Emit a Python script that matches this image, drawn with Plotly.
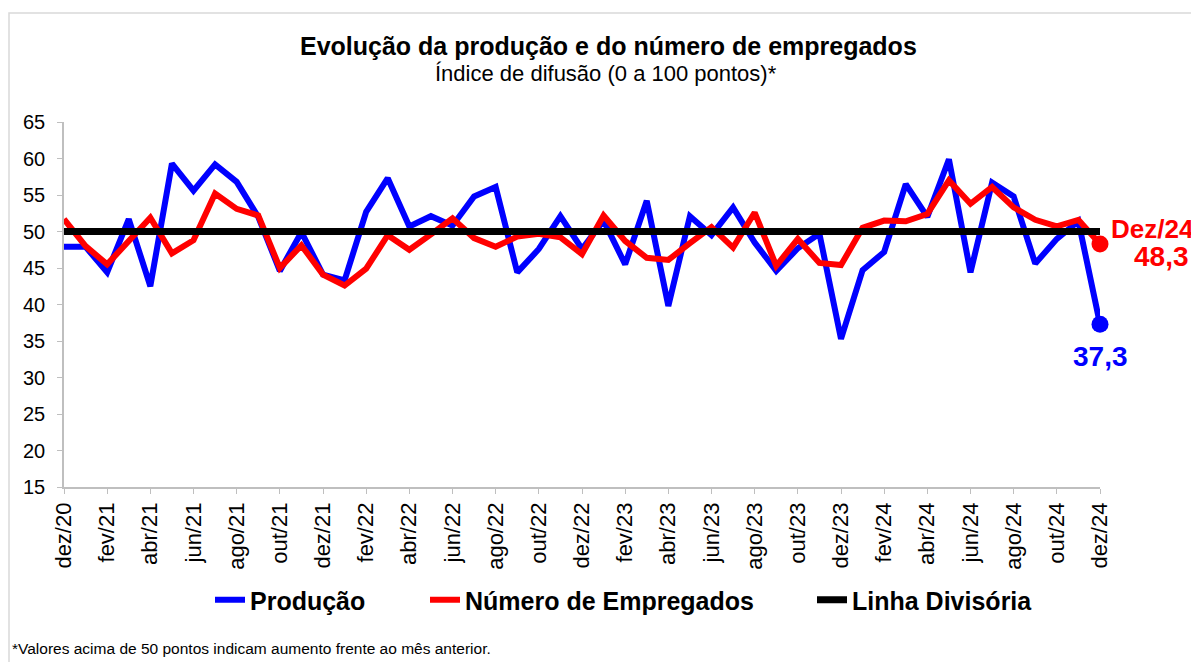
import plotly.graph_objects as go

months = ["dez/20","jan/21","fev/21","mar/21","abr/21","mai/21","jun/21","jul/21","ago/21","set/21","out/21","nov/21",
          "dez/21","jan/22","fev/22","mar/22","abr/22","mai/22","jun/22","jul/22","ago/22","set/22","out/22","nov/22",
          "dez/22","jan/23","fev/23","mar/23","abr/23","mai/23","jun/23","jul/23","ago/23","set/23","out/23","nov/23",
          "dez/23","jan/24","fev/24","mar/24","abr/24","mai/24","jun/24","jul/24","ago/24","set/24","out/24","nov/24",
          "dez/24"]

producao = [47.9, 47.9, 44.4, 51.7, 42.5, 59.3, 55.6, 59.2, 56.8, 52.0, 44.6, 49.9,
            44.1, 43.3, 52.7, 57.3, 50.7, 52.1, 50.8, 54.8, 56.1, 44.4, 47.6, 52.1,
            47.6, 51.5, 45.5, 54.2, 39.8, 52.1, 49.5, 53.3, 48.5, 44.6, 47.7, 49.7,
            35.3, 44.7, 47.2, 56.5, 52.0, 59.9, 44.4, 56.7, 54.8, 45.6, 49.0, 51.4,
            37.3]

empregados = [51.7, 48.0, 45.5, 48.6, 51.9, 47.0, 48.8, 55.2, 53.1, 52.2, 45.0, 48.1,
              44.1, 42.6, 44.9, 49.5, 47.5, 49.6, 51.8, 49.1, 47.9, 49.3, 49.7, 49.2,
              46.9, 52.2, 48.7, 46.4, 46.1, 48.4, 50.6, 47.8, 52.6, 45.3, 49.0, 45.7,
              45.4, 50.5, 51.5, 51.4, 52.4, 57.0, 53.8, 56.1, 53.3, 51.6, 50.7, 51.6,
              48.3]

linha = [50] * len(months)

tick_idx = list(range(0, len(months), 2))
tick_labels = [months[i] for i in tick_idx]

x = list(range(len(months)))
FONT = "Liberation Sans, Arial, sans-serif"


def px(xp):
    return (xp - 64) / 1036


def py(yp):
    return (487 - yp) / 365


fig = go.Figure()
fig.add_trace(go.Scatter(x=x, y=producao, mode="lines", name="Produção", legend="legend",
                         line=dict(color="#0000FF", width=6)))
fig.add_trace(go.Scatter(x=x, y=empregados, mode="lines", name="Número de Empregados", legend="legend2",
                         line=dict(color="#FF0000", width=6)))
fig.add_trace(go.Scatter(x=x, y=linha, mode="lines", name="Linha Divisória", legend="legend3",
                         line=dict(color="#000000", width=7)))
fig.add_trace(go.Scatter(x=[x[-1]], y=[producao[-1]], mode="markers", showlegend=False,
                         cliponaxis=False, marker=dict(color="#0000FF", size=17)))
fig.add_trace(go.Scatter(x=[x[-1]], y=[empregados[-1]], mode="markers", showlegend=False,
                         cliponaxis=False, marker=dict(color="#FF0000", size=17)))

LEG_FONT = dict(family=FONT, size=25, color="#000000", weight="bold")


def leg(text_start):
    return dict(orientation="h", x=px(text_start - 40), xanchor="left", y=py(600), yanchor="middle",
                font=LEG_FONT, itemwidth=30, bgcolor="rgba(0,0,0,0)", borderwidth=0)


# page is offset by the 8px body margin; plot area lands at x 64..1100, y 122..487
fig.update_layout(
    width=1191, height=654, autosize=False,
    margin=dict(l=56, r=99, t=114, b=175),
    paper_bgcolor="white", plot_bgcolor="white",
    font=dict(family=FONT, color="#000000"),
    showlegend=True,
    legend=leg(250),
    legend2=leg(465),
    legend3=leg(852),
    xaxis=dict(range=[0, 48], tickmode="array", tickvals=tick_idx, ticktext=tick_labels,
               tickangle=-90, tickfont=dict(size=22, family=FONT, color="#000000"),
               showgrid=False, zeroline=False, showline=True, linecolor="#BFBFBF", linewidth=1.5,
               ticks="outside", ticklen=5, tickcolor="#BFBFBF"),
    yaxis=dict(range=[15, 65], dtick=5, tick0=15,
               tickfont=dict(size=20, family=FONT, color="#000000"),
               showgrid=False, zeroline=False, showline=True, linecolor="#BFBFBF", linewidth=1.5,
               ticks="outside", ticklen=5, tickcolor="#BFBFBF", ticklabelstandoff=8),
)

# outer frame
fig.add_shape(type="rect", xref="paper", yref="paper",
              x0=px(9), x1=px(1260), y0=py(700), y1=py(13),
              line=dict(color="#D9D9D9", width=1.5), fillcolor="rgba(0,0,0,0)", layer="below")

fig.add_annotation(xref="paper", yref="paper", x=px(608), y=py(46),
                   text="<b>Evolução da produção e do número de empregados</b>", showarrow=False,
                   font=dict(size=25, family=FONT, color="#000000"), xanchor="center", yanchor="middle")
fig.add_annotation(xref="paper", yref="paper", x=px(606), y=py(73),
                   text="Índice de difusão (0 a 100 pontos)*", showarrow=False,
                   font=dict(size=22, family=FONT, color="#000000"), xanchor="center", yanchor="middle")

fig.add_annotation(x=x[-1], y=empregados[-1], text="<b>Dez/24</b>", showarrow=False,
                   xanchor="left", yanchor="middle", xshift=9, yshift=15,
                   font=dict(size=26, family=FONT, color="#FF0000"))
fig.add_annotation(x=x[-1], y=empregados[-1], text="<b>48,3</b>", showarrow=False,
                   xanchor="center", yanchor="middle", xshift=61, yshift=-13,
                   font=dict(size=28, family=FONT, color="#FF0000"))
fig.add_annotation(x=x[-1], y=producao[-1], text="<b>37,3</b>", showarrow=False,
                   xanchor="center", yanchor="middle", xshift=0, yshift=-32,
                   font=dict(size=28, family=FONT, color="#0000FF"))

fig.add_annotation(xref="paper", yref="paper", x=px(10), y=py(648),
                   text="*Valores acima de 50 pontos indicam aumento frente ao mês anterior.",
                   showarrow=False, xanchor="left", yanchor="middle",
                   font=dict(size=15.5, family=FONT, color="#000000"))

fig.write_html("out.html")
